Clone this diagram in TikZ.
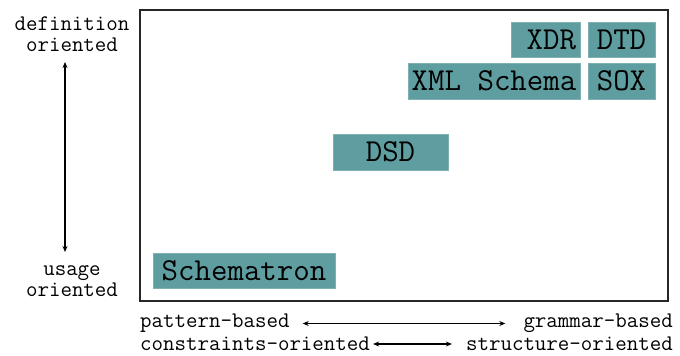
\documentclass[tikz,border=0pt]{standalone}
\usepackage{fontspec}
\usetikzlibrary{arrows.meta}
\definecolor{boxteal}{HTML}{5F9EA0}
\tikzset{
  schemabox/.style={fill=boxteal, draw=boxteal!80!white, line width=0.6pt, inner sep=0pt,
    font=\ttfamily\fontsize{32}{34}\selectfont},
  axislabel/.style={inner sep=0pt, align=center, font=\ttfamily\fontsize{22.3}{21}\selectfont},
  axisarrow/.style={line width=1.3pt, {Stealth[length=6pt,width=5pt]}-{Stealth[length=6pt,width=5pt]}},
}
\begin{document}
\begin{tikzpicture}[x=1pt,y=-1pt]
\useasboundingbox (0,0) rectangle (680,356);

% frame
\draw[line width=2pt, black!85] (140,10) rectangle (668,301);

% languages
\node[schemabox, minimum width=69pt, minimum height=35pt, text width=61pt, align=right] (xdr) at (545.5,39.5) {XDR};
\node[schemabox, minimum width=67pt, minimum height=35pt] (dtd) at (621.5,39.5) {DTD};
\node[schemabox, minimum width=172pt, minimum height=36pt] (xmls) at (494,81) {XML Schema};
\node[schemabox, minimum width=67pt, minimum height=36pt] (sox) at (621.5,81) {SOX};
\node[schemabox, minimum width=115pt, minimum height=36pt] (dsd) at (390.5,152) {DSD};
\node[schemabox, minimum width=182pt, minimum height=35pt] (schematron) at (244,270.5) {Schematron};

% vertical axis
\node[axislabel] (def) at (72,34) {definition\\oriented};
\node[axislabel] (use) at (72,281.5) {usage\\oriented};
\coordinate (vtop) at (65,62);
\coordinate (vbot) at (65,252);
\draw[axisarrow] (vtop) -- (vbot);

% horizontal axes
\node[axislabel, anchor=west] (pat) at (140,323.5) {pattern-based};
\node[axislabel, anchor=east] (gram) at (673,323.5) {grammar-based};
\node[axislabel, anchor=west] (cons) at (140,344) {constraints-oriented};
\node[axislabel, anchor=east] (struct) at (673,344) {structure-oriented};
\draw[axisarrow] ([xshift=13pt]pat.east) -- ([xshift=-18pt]gram.west);
\draw[axisarrow] ([xshift=3pt]cons.east) -- ([xshift=-14pt]struct.west);
\end{tikzpicture}
\end{document}
